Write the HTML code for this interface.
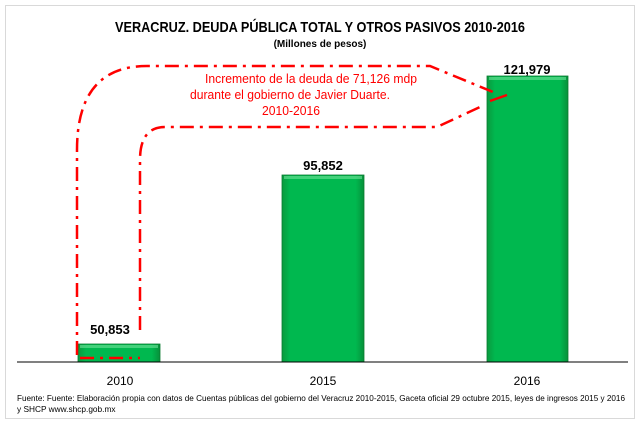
<!DOCTYPE html>
<html><head><meta charset="utf-8"><style>
body{margin:0;width:640px;height:424px;background:#fff;overflow:hidden}
svg{display:block}
text{font-family:"Liberation Sans",sans-serif}
</style></head><body>
<svg width="640" height="424" viewBox="0 0 640 424">
<defs>
<linearGradient id="g" x1="0" x2="1"><stop offset="0" stop-color="#0a9a3e"/><stop offset="0.1" stop-color="#00b84f"/><stop offset="0.9" stop-color="#00b84f"/><stop offset="1" stop-color="#07903a"/></linearGradient>
</defs>
<rect x="5.5" y="5.5" width="629" height="413" fill="#fff" stroke="#d9d9d9"/>
<text x="320" y="32" text-anchor="middle" font-size="15" font-weight="bold" textLength="410" lengthAdjust="spacingAndGlyphs">VERACRUZ. DEUDA PÚBLICA TOTAL Y OTROS PASIVOS 2010-2016</text>
<text x="320" y="47" text-anchor="middle" font-size="10" font-weight="bold">(Millones  de pesos)</text>
<g fill="url(#g)" stroke="#0a7a30" stroke-width="0.8">
<rect x="78" y="344" width="82" height="18"/>
<rect x="282" y="175" width="82" height="187"/>
<rect x="487" y="76" width="81" height="286"/>
</g>
<g fill="#6fe39a" opacity="0.6"><rect x="80" y="345" width="78" height="3"/><rect x="284" y="176" width="78" height="3"/><rect x="489" y="77" width="77" height="3"/></g>
<line x1="17" y1="362" x2="628" y2="362" stroke="#000" stroke-width="1"/>
<g font-size="13" font-weight="bold" text-anchor="middle">
<text x="110" y="334">50,853</text>
<text x="323" y="170">95,852</text>
<text x="527" y="74">121,979</text>
</g>
<g font-size="12" text-anchor="middle"><text x="120" y="385">2010</text><text x="323" y="385">2015</text><text x="527" y="385">2016</text></g>
<text x="17" y="401" font-size="8.3" textLength="608" lengthAdjust="spacingAndGlyphs">Fuente: Fuente: Elaboración propia con datos de  Cuentas públicas del gobierno del Veracruz 2010-2015,  Gaceta oficial 29 octubre 2015, leyes de ingresos 2015 y 2016</text>
<text x="17" y="412" font-size="8.3">y SHCP www.shcp.gob.mx</text>
<g fill="none" stroke="#f00" stroke-width="2.5" stroke-dasharray="14,6,3,6">
<path d="M77 355 L77 150 Q77 66 147 66 L430 66 L493 92"/>
<path d="M140 330 L140 160 Q140 127 165 127 L437 127 L480 107"/>
<path d="M490 101 L507 95" stroke-dasharray="none"/>
<path d="M80 358 L140 358"/>
</g>
<g font-size="12.5" fill="#f00" text-anchor="middle">
<text x="311" y="83" textLength="212" lengthAdjust="spacingAndGlyphs">Incremento de la deuda de 71,126 mdp</text>
<text x="290" y="99" textLength="200" lengthAdjust="spacingAndGlyphs">durante el gobierno de Javier Duarte.</text>
<text x="291" y="115" textLength="58" lengthAdjust="spacingAndGlyphs">2010-2016</text>
</g>
</svg>
</body></html>
